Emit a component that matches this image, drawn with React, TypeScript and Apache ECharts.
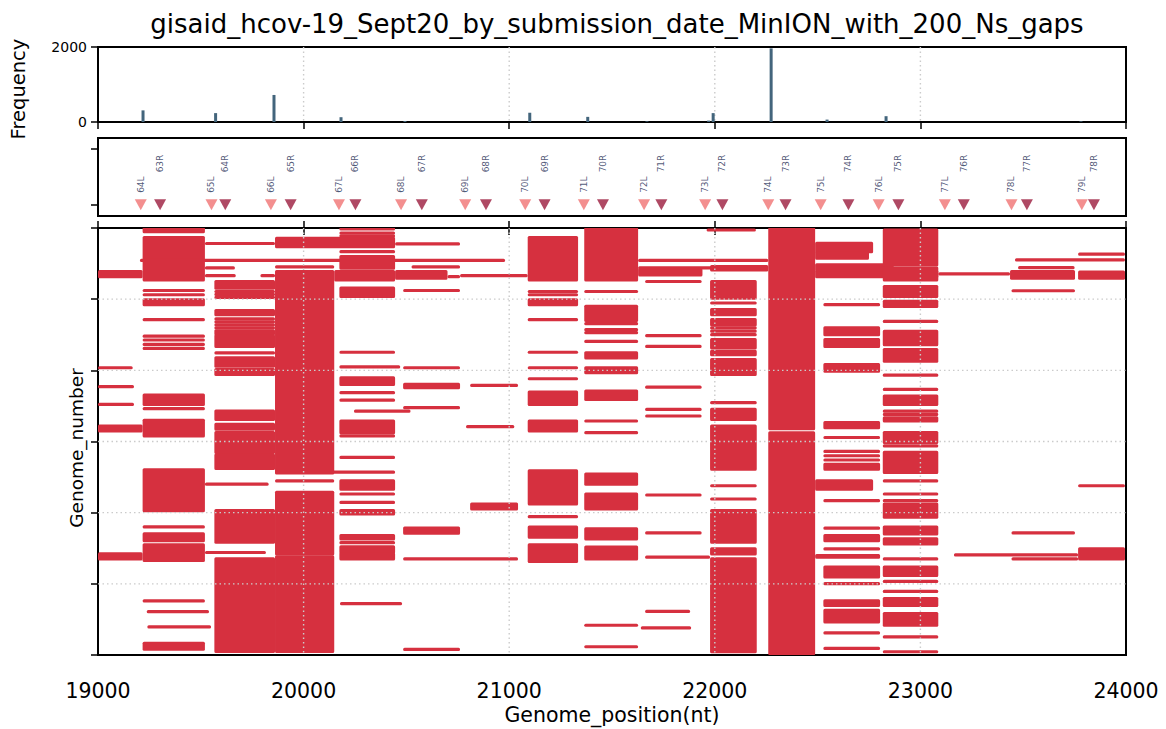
import { useEffect, useRef } from "react";
import * as echarts from "echarts";

const TITLE = "gisaid_hcov-19_Sept20_by_submission_date_MinION_with_200_Ns_gaps";
const FONT = "'DejaVu Sans', sans-serif";
const RED = "#d6303f";

const xMin = 19000;
const xMax = 24000;
const xStep = 1000;

// Histogram of gap start positions (top panel)
const freqPositions = [19219, 19572, 19856, 20182, 20493, 21100, 21382, 21670, 21970, 21992, 22274, 22546, 22833, 23781];
const freqCounts = [310, 237, 721, 128, 27, 247, 137, 18, 37, 237, 1963, 64, 155, 18];
const freqMax = 2000;
const freqTicks = [0, 2000];

// Primer sites (middle panel)
const leftPrimerNames = ["64L", "65L", "66L", "67L", "68L", "69L", "70L", "71L", "72L", "73L", "74L", "75L", "76L", "77L", "78L", "79L"];
const leftPrimerPos = [19208, 19552, 19841, 20172, 20474, 20786, 21078, 21363, 21656, 21953, 22260, 22515, 22797, 23119, 23443, 23785];
const rightPrimerNames = ["63R", "64R", "65R", "66R", "67R", "68R", "69R", "70R", "71R", "72R", "73R", "74R", "75R", "76R", "77R", "78R"];
const rightPrimerPos = [19302, 19619, 19937, 20252, 20575, 20887, 21172, 21456, 21740, 22037, 22344, 22650, 22893, 23211, 23518, 23844];

// Gap runs: [start nt, end nt, first genome, last genome]
const gapsEdge = [
  [19000, 19217, 306, 341], [19000, 19169, 982, 982], [19000, 19175, 1115, 1115],
  [19000, 19175, 1239, 1239], [19000, 19217, 1391, 1426], [19000, 19217, 2289, 2324],
];
const gapsAmp64 = [
  [19217, 19520, 2, 26], [19217, 19520, 68, 364], [19217, 19520, 439, 439], [19217, 19520, 469, 469],
  [19217, 19520, 504, 539], [19217, 19520, 644, 644], [19217, 19520, 759, 759], [19217, 19520, 787, 787],
  [19217, 19520, 818, 818], [19217, 19520, 846, 846], [19217, 19520, 1174, 1239], [19217, 19520, 1269, 1269],
  [19217, 19520, 1351, 1461], [19217, 19520, 1699, 1986], [19217, 19520, 2100, 2100], [19217, 19520, 2149, 2196],
  [19217, 19520, 2226, 2336], [19217, 19520, 2620, 2620], [19237, 19540, 2695, 2695], [19240, 19550, 2802, 2802],
  [19217, 19520, 2919, 2959],
];
const gapsCross = [
  [19204, 20980, 228, 228], [19520, 19861, 109, 109], [19520, 19670, 334, 334], [19790, 19861, 334, 334],
  [19520, 19666, 280, 280], [19520, 19830, 1799, 1799], [19520, 19817, 2280, 2280], [19861, 20445, 1715, 1715],
  [20761, 21090, 334, 334], [21627, 22260, 228, 228], [21627, 22260, 280, 280], [22488, 23087, 306, 341],
  [23087, 23436, 322, 322], [23436, 23752, 306, 352], [23767, 23995, 310, 352],
];
const gapsAmp65 = [
  [19566, 19861, 376, 422], [19566, 19861, 446, 446], [19566, 19861, 467, 467], [19566, 19861, 488, 488],
  [19566, 19861, 581, 609], [19566, 19861, 639, 639], [19566, 19861, 660, 660], [19566, 19861, 681, 681],
  [19566, 19861, 702, 702], [19566, 19861, 723, 744], [19566, 19861, 758, 831], [19566, 19861, 877, 877],
  [19566, 19861, 912, 971], [19566, 19861, 994, 1029], [19566, 19861, 1286, 1344], [19566, 19861, 1379, 1414],
  [19566, 19861, 1437, 1577], [19566, 19861, 1596, 1689], [19566, 19861, 1986, 2207], [19566, 19861, 2324, 2975],
];
const gapsAmp66 = [
  [19861, 20445, 72, 131], [19861, 20149, 273, 273], [19861, 20149, 306, 1720], [19861, 20149, 1776, 1776],
  [19861, 20149, 1857, 2289], [19861, 20149, 2310, 2975],
];
const gapsAmp67 = [
  [20174, 20445, 7, 7], [20174, 20445, 35, 35], [20174, 20445, 55, 55], [20174, 20445, 166, 166],
  [20174, 20445, 201, 282], [20149, 20445, 306, 364], [20174, 20445, 422, 481], [20174, 20445, 873, 873],
  [20174, 20470, 975, 975], [20174, 20445, 1052, 1099], [20174, 20445, 1157, 1157], [20174, 20445, 1209, 1209],
  [20245, 20520, 1286, 1286], [20174, 20445, 1356, 1437], [20174, 20445, 1461, 1461], [20174, 20445, 1612, 1612],
  [20174, 20445, 1776, 1834], [20174, 20445, 1869, 1869], [20174, 20445, 1927, 1927], [20174, 20445, 1986, 2009],
  [20174, 20445, 2161, 2185], [20174, 20445, 2210, 2210], [20174, 20445, 2240, 2277], [20174, 20445, 2289, 2324],
  [20177, 20479, 2639, 2639],
];
const gapsAmp68 = [
  [20445, 20761, 112, 112], [20525, 20761, 273, 273], [20445, 20700, 306, 352], [20700, 20761, 341, 341],
  [20484, 20761, 439, 439], [20484, 20761, 982, 982], [20484, 20761, 1099, 1122], [20484, 20761, 1262, 1262],
  [20484, 20761, 2109, 2144], [20484, 21043, 2324, 2324], [20484, 20761, 2961, 2961],
];
const gapsAmp69 = [
  [20810, 21043, 1106, 1106], [20790, 21025, 1395, 1395], [20810, 21043, 1939, 1974],
];
const gapsAmp70 = [
  [21090, 21335, 68, 364], [21090, 21335, 446, 446], [21090, 21335, 469, 469], [21090, 21335, 504, 539],
  [21090, 21335, 644, 644], [21090, 21335, 873, 873], [21090, 21335, 982, 982], [21090, 21335, 1059, 1059],
  [21090, 21335, 1153, 1239], [21090, 21335, 1356, 1426], [21090, 21335, 1706, 1939], [21090, 21335, 2028, 2028],
  [21090, 21335, 2102, 2172], [21090, 21335, 2226, 2343],
];
const gapsAmp71 = [
  [21365, 21627, 0, 364], [21365, 21627, 446, 446], [21365, 21627, 551, 650], [21365, 21627, 672, 672],
  [21365, 21627, 714, 714], [21365, 21627, 735, 735], [21365, 21627, 796, 796], [21365, 21627, 877, 912],
  [21365, 21627, 982, 1017], [21365, 21627, 1146, 1204], [21365, 21627, 1356, 1356], [21365, 21627, 1437, 1437],
  [21365, 21627, 1729, 1799], [21365, 21627, 1869, 1974], [21365, 21627, 2114, 2184], [21365, 21627, 2242, 2324],
  [21365, 21627, 2791, 2791], [21365, 21627, 2942, 2942],
];
const gapsAmp72 = [
  [21627, 21940, 294, 329], [21661, 21936, 376, 376], [21661, 21936, 756, 756], [21661, 21936, 831, 831],
  [21661, 21936, 1118, 1118], [21661, 21936, 1274, 1274], [21661, 21936, 1321, 1321], [21661, 21936, 1876, 1876],
  [21661, 21936, 2142, 2142], [21661, 21977, 2312, 2312], [21661, 21880, 2693, 2693], [21640, 21885, 2809, 2809],
];
const gapsAmp73 = [
  [21960, 22200, 14, 14], [21977, 22260, 271, 294], [21977, 22204, 376, 492], [21977, 22204, 527, 527],
  [21977, 22204, 574, 609], [21977, 22204, 644, 680], [21977, 22204, 702, 702], [21977, 22204, 725, 725],
  [21977, 22204, 749, 749], [21977, 22204, 784, 842], [21977, 22204, 866, 889], [21977, 22204, 924, 1029],
  [21977, 22204, 1227, 1227], [21977, 22204, 1274, 1344], [21977, 22204, 1391, 1694], [21977, 22204, 1811, 1811],
  [21977, 22204, 1904, 1904], [21977, 22204, 1986, 2207], [21977, 22204, 2254, 2289], [21977, 22204, 2324, 2977],
];
const gapsAmp74 = [
  [22260, 22488, 2, 1410], [22260, 22488, 1440, 2990],
];
const gapsAmp75 = [
  [22488, 22770, 107, 166], [22488, 22750, 177, 212], [22488, 22870, 259, 294], [22528, 22804, 539, 539],
  [22528, 22804, 702, 749], [22528, 22804, 784, 831], [22528, 22804, 959, 1005], [22528, 22804, 1367, 1402],
  [22528, 22804, 1472, 1472], [22528, 22804, 1570, 1570], [22528, 22804, 1600, 1600], [22528, 22804, 1630, 1630],
  [22528, 22804, 1660, 1694], [22488, 22770, 1776, 1834], [22528, 22804, 1916, 1916], [22528, 22804, 2109, 2109],
  [22528, 22804, 2161, 2196], [22528, 22804, 2254, 2254], [22488, 22804, 2301, 2312], [22528, 22804, 2382, 2452],
  [22528, 22804, 2499, 2499], [22528, 22804, 2620, 2651], [22528, 22804, 2686, 2767], [22528, 22804, 2844, 2844],
  [22528, 22804, 2954, 2954],
];
const gapsAmp76 = [
  [22817, 23087, 14, 259], [22817, 23087, 282, 364], [22817, 23087, 411, 481], [22817, 23087, 516, 551],
  [22817, 23087, 656, 656], [22817, 23087, 726, 819], [22817, 23087, 854, 936], [22817, 23087, 1034, 1034],
  [22817, 23087, 1134, 1134], [22817, 23087, 1181, 1239], [22817, 23087, 1286, 1286], [22817, 23087, 1310, 1310],
  [22817, 23087, 1333, 1356], [22817, 23087, 1437, 1507], [22817, 23087, 1531, 1531], [22817, 23087, 1577, 1717],
  [22817, 23087, 1776, 1776], [22817, 23087, 1869, 1869], [22817, 23087, 1916, 1916], [22817, 23087, 1939, 2032],
  [22817, 23087, 2102, 2149], [22817, 23087, 2184, 2219], [22817, 23087, 2324, 2324], [22817, 23087, 2382, 2441],
  [22817, 23087, 2483, 2483], [22817, 23087, 2553, 2553], [22817, 23087, 2604, 2651], [22817, 23087, 2709, 2791],
  [22817, 23087, 2872, 2872], [22817, 23087, 2977, 2977],
];
const gapsTail = [
  [23767, 23995, 184, 184], [23460, 23995, 224, 224], [23475, 23750, 278, 278], [23443, 23752, 441, 441],
  [23767, 23995, 1811, 1811], [23443, 23752, 2142, 2142], [23767, 23995, 2254, 2324], [23163, 23767, 2296, 2296],
  [23443, 23767, 2324, 2324],
];

const genomeMax = 3000;
const genomeStep = 500;
const gridX = [20000, 21000, 22000, 23000];
const gridY = [500, 1000, 1500, 2000, 2500];

const allGaps = [
  ...gapsEdge, ...gapsAmp64, ...gapsCross, ...gapsAmp65, ...gapsAmp66, ...gapsAmp67, ...gapsAmp68,
  ...gapsAmp69, ...gapsAmp70, ...gapsAmp71, ...gapsAmp72, ...gapsAmp73, ...gapsAmp74, ...gapsAmp75,
  ...gapsAmp76, ...gapsTail,
];

const tickStyle = { lineStyle: { color: "#000", width: 1.5 } };

// Dotted grid drawn above the marks of a panel; kind 0 = vertical, kind 1 = horizontal
const gridOverlay = (axisIndex: number, xs: number[], ys: number[], z: number) => ({
  type: "custom",
  xAxisIndex: axisIndex,
  yAxisIndex: axisIndex,
  clip: false,
  silent: true,
  encode: { x: 0, y: 1 },
  data: [...xs.map((x) => [x, 0, 0]), ...ys.map((y) => [xMin, y, 1])],
  renderItem: (params: any, api: any) => {
    const cs = params.coordSys;
    const style = { stroke: "#cbcbcb", lineWidth: 1.4, lineDash: [1.5, 3] };
    if (api.value(2) === 0) {
      const x = api.coord([api.value(0), 0])[0];
      return { type: "line", shape: { x1: x, y1: cs.y, x2: x, y2: cs.y + cs.height }, style };
    }
    const y = api.coord([xMin, api.value(1)])[1];
    return { type: "line", shape: { x1: cs.x, y1: y, x2: cs.x + cs.width, y2: y }, style };
  },
  z,
});

export default function App() {
  const ref = useRef<HTMLDivElement>(null);

  useEffect(() => {
    if (!ref.current) return;
    const chart = echarts.init(ref.current, undefined, { renderer: "svg" });

    const nameStyle = { fontFamily: FONT, fill: "#000", align: "center", verticalAlign: "middle", textAlign: "center", textVerticalAlign: "middle" };
    const names = [
      { id: "freqName", type: "text", x: 18, y: 89, rotation: Math.PI / 2, style: { text: "Frequency", fontSize: 19.5, ...nameStyle } },
      { id: "genomeName", type: "text", x: 76, y: 448, rotation: Math.PI / 2, style: { text: "Genome_number", fontSize: 18.5, ...nameStyle } },
      { id: "posName", type: "text", x: 612, y: 715, style: { text: "Genome_position(nt)", fontSize: 20.5, ...nameStyle } },
    ];

    const option: any = {
      animation: false,
      backgroundColor: "#fff",
      textStyle: { fontFamily: FONT },
      title: {
        text: TITLE,
        left: 612,
        top: 6,
        textAlign: "center",
        textStyle: { fontFamily: FONT, fontSize: 26, fontWeight: "normal", color: "#000" },
      },
      graphic: names,
      grid: [
        { left: 98, width: 1028, top: 47, height: 75, show: true, borderColor: "#000", borderWidth: 2, outerBoundsMode: "none" },
        { left: 98, width: 1028, top: 138, height: 78, show: true, borderColor: "#000", borderWidth: 2, outerBoundsMode: "none" },
        { left: 98, width: 1028, top: 228, height: 427, show: true, borderColor: "#000", borderWidth: 2, outerBoundsMode: "none" },
      ],
      xAxis: [
        {
          gridIndex: 0, type: "value", min: xMin, max: xMax, interval: xStep,
          axisLine: { show: false }, axisLabel: { show: false },
          axisTick: { show: true, length: 7, ...tickStyle },
          splitLine: { show: false },
        },
        {
          gridIndex: 1, type: "value", min: xMin, max: xMax, interval: xStep,
          axisLine: { show: false }, axisLabel: { show: false }, axisTick: { show: false }, splitLine: { show: false },
        },
        {
          gridIndex: 2, type: "value", min: xMin, max: xMax, interval: xStep, position: "bottom",
          axisLine: { show: false },
          axisLabel: {
            show: true, margin: 25,
            formatter: (v: number) => `{t|${v}}`,
            rich: { t: { fontSize: 20.5, fontFamily: FONT, color: "#000" } },
          },
          axisTick: { show: true, length: 7, ...tickStyle },
          splitLine: { show: false },
        },
        {
          gridIndex: 2, type: "value", min: xMin, max: xMax, interval: xStep, position: "top",
          axisLine: { show: false }, axisLabel: { show: false },
          axisTick: { show: true, length: 7, ...tickStyle },
          splitLine: { show: false },
        },
      ],
      yAxis: [
        {
          gridIndex: 0, type: "value", min: 0, max: freqMax, interval: freqMax,
          axisLine: { show: false }, axisLabel: { show: false },
          axisTick: { show: true, length: 7, ...tickStyle },
          splitLine: { show: false },
        },
        {
          gridIndex: 1, type: "value", min: -0.2, max: 1.2,
          axisLine: { show: false }, axisLabel: { show: false },
          axisTick: { show: true, length: 7, customValues: [0, 1], ...tickStyle },
          splitLine: { show: false },
        },
        {
          gridIndex: 2, type: "value", min: 0, max: genomeMax, interval: genomeStep, inverse: true,
          axisLine: { show: false }, axisLabel: { show: false },
          axisTick: { show: true, length: 7, ...tickStyle },
          splitLine: { show: false },
        },
      ],
      series: [
        {
          type: "bar",
          xAxisIndex: 0,
          yAxisIndex: 0,
          barWidth: 3,
          itemStyle: { color: "#43657c" },
          data: freqPositions.map((p, i) => [p, freqCounts[i]]),
        },
        gridOverlay(0, gridX, [], 1),
        {
          type: "scatter",
          xAxisIndex: 1,
          yAxisIndex: 1,
          symbol: "triangle",
          symbolRotate: 180,
          symbolSize: [12, 11],
          itemStyle: { color: "#f07373" },
          label: {
            show: true, formatter: "{b}", rotate: 90, position: [6, -6.5], align: "left", verticalAlign: "middle",
            fontSize: 9, color: "#1f2d55", fontFamily: FONT,
          },
          data: leftPrimerPos.map((p, i) => ({ name: leftPrimerNames[i], value: [p, 0] })),
        },
        {
          type: "scatter",
          xAxisIndex: 1,
          yAxisIndex: 1,
          symbol: "triangle",
          symbolRotate: 180,
          symbolSize: [12, 11],
          itemStyle: { color: "#9b1b3d" },
          label: {
            show: true, formatter: "{b}", rotate: 90, position: [6, -27], align: "left", verticalAlign: "middle",
            fontSize: 9, color: "#1f2d55", fontFamily: FONT,
          },
          data: rightPrimerPos.map((p, i) => ({ name: rightPrimerNames[i], value: [p, 0] })),
        },
        {
          type: "custom",
          xAxisIndex: 2,
          yAxisIndex: 2,
          clip: true,
          encode: { x: [0, 1], y: [2, 3] },
          data: allGaps,
          renderItem: (params: any, api: any) => {
            const p0 = api.coord([api.value(0), api.value(2)]);
            const p1 = api.coord([api.value(1), api.value(3)]);
            const top = Math.min(p0[1], p1[1]) - 1.6;
            const h = Math.abs(p1[1] - p0[1]) + 3.2;
            return {
              type: "rect",
              shape: { x: p0[0], y: top, width: p1[0] - p0[0], height: h, r: 1.5 },
              style: { fill: RED },
            };
          },
          z: 2,
        },
        gridOverlay(2, gridX, gridY, 5),
      ],
    };

    chart.setOption(option);

    // Frequency tick labels placed through the top panel's own scale
    const freqLabels = freqTicks.map((v, i) => {
      const [px, py] = chart.convertToPixel({ xAxisIndex: 0, yAxisIndex: 0 }, [xMin, v]) as number[];
      return {
        id: `freqTick${i}`,
        type: "text",
        x: px - 11,
        y: py,
        style: { text: String(v), fontSize: 14, fontFamily: FONT, fill: "#000", align: "right", verticalAlign: "middle", textAlign: "right", textVerticalAlign: "middle" },
      };
    });
    chart.setOption({ graphic: [...names, ...freqLabels] });

    return () => chart.dispose();
  }, []);

  return <div ref={ref} style={{ position: "absolute", left: 0, top: 0, width: 1166, height: 729 }} />;
}
